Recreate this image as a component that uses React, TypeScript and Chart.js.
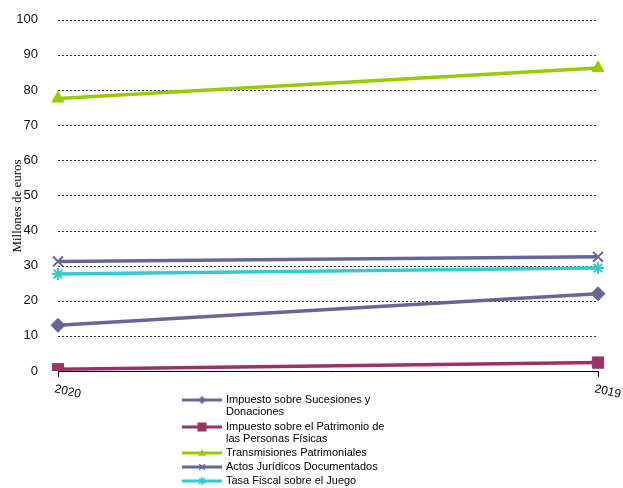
import React, { useEffect, useRef } from "react";
import { Chart, registerables } from "chart.js";

Chart.register(...registerables);

const categories = ["2020", "2019"];
const seriesNames = [
  ["Impuesto sobre Sucesiones y", "Donaciones"],
  ["Impuesto sobre el Patrimonio de", "las Personas Físicas"],
  ["Transmisiones Patrimoniales"],
  ["Actos Jurídicos Documentados"],
  ["Tasa Fiscal sobre el Juego"],
];
const sucesiones = [13.0, 22.0];
const patrimonio = [0.5, 2.4];
const transmisiones = [77.6, 86.3];
const actos = [31.2, 32.5];
const juego = [27.6, 29.3];
const yTicks = { min: 0, max: 100, step: 10 };
const yTitle = "Millones de euros";

const colors = ["#666699", "#993366", "#99CC00", "#666699", "#33CCCC"];
const styles: any[] = ["rectRot", "rect", "triangle", "crossRot", "star"];
const radii = [7, 8, 7, 7, 6];
const values = [sucesiones, patrimonio, transmisiones, actos, juego];

const gridPlugin = {
  id: "dashgrid",
  beforeDatasetsDraw(chart: any) {
    const ctx = chart.ctx;
    const ys = chart.scales.y;
    const a = chart.chartArea;
    ctx.save();
    ctx.strokeStyle = "#333";
    ctx.lineWidth = 1;
    ctx.setLineDash([2, 2]);
    ys.ticks.forEach((t: any) => {
      if (t.value === 0) return;
      const y = Math.round(ys.getPixelForValue(t.value)) + 0.5;
      ctx.beginPath();
      ctx.moveTo(a.left, y);
      ctx.lineTo(a.right, y);
      ctx.stroke();
    });
    ctx.restore();
  },
};

const customPlugin = {
  id: "custom",
  afterDraw(chart: any) {
    const ctx = chart.ctx;
    const xs = chart.scales.x;
    ctx.save();
    ctx.fillStyle = "#000";
    ctx.font = "12px 'Liberation Sans', Arial, sans-serif";
    ctx.textAlign = "left";
    ctx.textBaseline = "top";
    categories.forEach((c, i) => {
      const x = xs.getPixelForValue(i);
      ctx.save();
      ctx.translate(x - 2, 383);
      ctx.rotate(0.22);
      ctx.fillText(c, 0, 0);
      ctx.restore();
    });
    ctx.save();
    ctx.translate(18, 206);
    ctx.rotate(-Math.PI / 2);
    ctx.textAlign = "center";
    ctx.textBaseline = "middle";
    ctx.font = "13px 'Liberation Serif', 'Times New Roman', serif";
    ctx.fillText(yTitle, 0, 0);
    ctx.restore();
    const rows = [400, 427, 453, 467, 481];
    ctx.font = "11px 'Liberation Sans', Arial, sans-serif";
    ctx.textBaseline = "middle";
    ctx.textAlign = "left";
    seriesNames.forEach((lines, i) => {
      const y = rows[i];
      ctx.strokeStyle = colors[i];
      ctx.lineWidth = 3;
      ctx.beginPath();
      ctx.moveTo(182, y);
      ctx.lineTo(222, y);
      ctx.stroke();
      drawMarker(ctx, styles[i], 202, y, i === 1 ? 4.5 : 4, colors[i]);
      ctx.fillStyle = "#000";
      lines.forEach((t, j) => ctx.fillText(t, 226, y + j * 12));
    });
    ctx.restore();
  },
};

function drawMarker(ctx: any, style: string, x: number, y: number, r: number, color: string) {
  ctx.save();
  ctx.fillStyle = color;
  ctx.strokeStyle = color;
  ctx.lineWidth = 1.5;
  ctx.beginPath();
  if (style === "rectRot") {
    ctx.moveTo(x, y - r);
    ctx.lineTo(x + r, y);
    ctx.lineTo(x, y + r);
    ctx.lineTo(x - r, y);
    ctx.closePath();
    ctx.fill();
  } else if (style === "rect") {
    ctx.rect(x - r, y - r, 2 * r, 2 * r);
    ctx.fill();
  } else if (style === "triangle") {
    ctx.moveTo(x, y - r);
    ctx.lineTo(x + r, y + r * 0.7);
    ctx.lineTo(x - r, y + r * 0.7);
    ctx.closePath();
    ctx.fill();
  } else if (style === "crossRot") {
    ctx.moveTo(x - r * 0.7, y - r * 0.7);
    ctx.lineTo(x + r * 0.7, y + r * 0.7);
    ctx.moveTo(x + r * 0.7, y - r * 0.7);
    ctx.lineTo(x - r * 0.7, y + r * 0.7);
    ctx.stroke();
  } else {
    ctx.moveTo(x - r, y);
    ctx.lineTo(x + r, y);
    ctx.moveTo(x, y - r);
    ctx.lineTo(x, y + r);
    ctx.moveTo(x - r * 0.7, y - r * 0.7);
    ctx.lineTo(x + r * 0.7, y + r * 0.7);
    ctx.moveTo(x + r * 0.7, y - r * 0.7);
    ctx.lineTo(x - r * 0.7, y + r * 0.7);
    ctx.stroke();
  }
  ctx.restore();
}

export default function App() {
  const ref = useRef<HTMLCanvasElement>(null);
  useEffect(() => {
    if (!ref.current) return;
    const chart = new Chart(ref.current, {
      type: "line",
      data: {
        labels: categories,
        datasets: values.map((v, i) => ({
          label: seriesNames[i].join(" "),
          data: v,
          borderColor: colors[i],
          backgroundColor: colors[i],
          borderWidth: 3.5,
          pointStyle: styles[i],
          pointRadius: radii[i],
          pointBorderWidth: styles[i] === "crossRot" || styles[i] === "star" ? 2 : 1,
          pointBorderColor: colors[i],
          pointBackgroundColor: colors[i],
          tension: 0,
        })),
      },
      options: {
        animation: false,
        responsive: true,
        maintainAspectRatio: false,
        layout: { padding: { top: 18, right: 25, left: 0, bottom: 0 } },
        plugins: { legend: { display: false }, tooltip: { enabled: false } },
        scales: {
          x: {
            offset: false,
            ticks: { display: false },
            grid: { drawOnChartArea: false, drawTicks: true, tickLength: 6, color: "#000" },
            border: { display: true, color: "#000", width: 1 },
            afterFit: (s: any) => {
              s.height = 117;
            },
          },
          y: {
            min: yTicks.min,
            max: yTicks.max,
            ticks: {
              stepSize: yTicks.step,
              color: "#111",
              padding: 12,
              font: { family: "'Liberation Sans', Arial, sans-serif", size: 13 },
            },
            grid: { display: false },
            border: { display: false },
            afterFit: (s: any) => {
              s.width = 58;
            },
          },
        },
      },
      plugins: [gridPlugin, customPlugin],
    });
    return () => chart.destroy();
  }, []);
  return (
    <div style={{ position: "fixed", left: 0, top: 0, width: 623, height: 488, background: "#fff" }}>
      <canvas ref={ref} />
    </div>
  );
}
